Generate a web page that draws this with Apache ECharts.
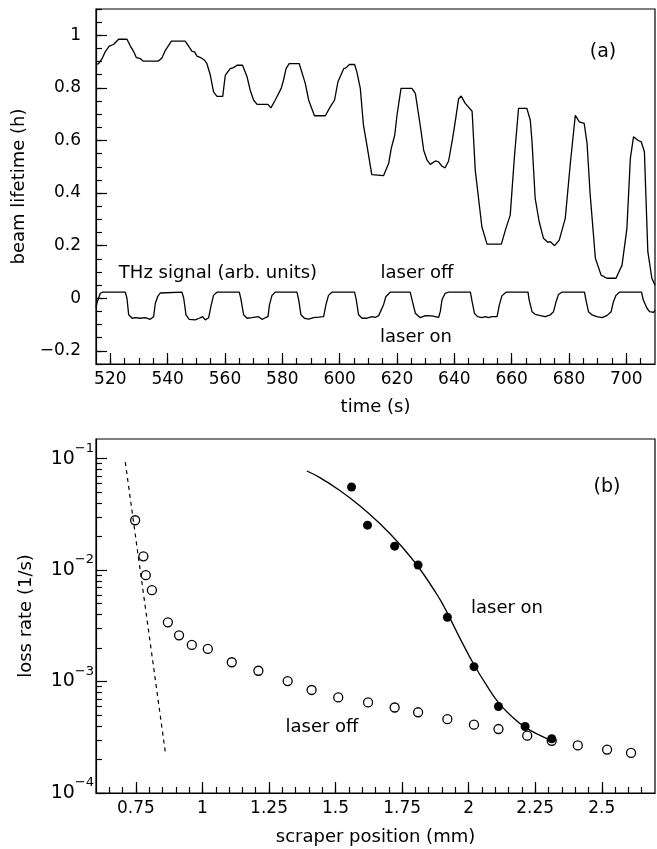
<!DOCTYPE html>
<html><head><meta charset="utf-8">
<script src="https://cdn.jsdelivr.net/npm/echarts@6/dist/echarts.min.js"></script>
<style>html,body{margin:0;padding:0;background:#fff}#c{width:657px;height:849px}</style>
</head><body><div id="c"></div>
<script>
// ---------- panel (a) ----------
const lifetimeT = [515,515.9,517.1,518.2,519.6,521.1,522.9,525.8,527.0,528.1,529.1,530.5,531.4,536.8,538.0,539.2,541.3,546.1,547.3,548.5,549.4,550.2,551.7,552.9,553.7,554.9,556.0,557.2,559.2,560.1,561.8,563.0,564.2,566.1,567.7,568.8,570.0,571.2,575.0,576.0,577.5,579.6,580.4,581.3,582.4,585.9,588.0,589.2,591.2,595.0,596.7,598.2,599.4,601.4,602.2,603.4,605.2,606.0,607.2,608.3,609.5,611.2,615.3,617.1,618.0,619.2,620.0,621.4,625.2,626.4,628.1,629.3,630.5,631.6,633.4,634.5,635.7,636.8,638.0,639.4,640.3,641.5,642.4,643.8,646.2,647.3,649.6,651.4,656.4,657.8,659.5,661.0,662.4,665.3,666.5,667.1,668.2,669.6,671.1,672.6,673.5,675.0,676.6,678.7,680.4,682.2,683.6,685.3,686.3,687.4,689.2,691.2,693.2,696.4,698.5,700.2,701.4,702.5,704.0,705.2,706.3,707.5,708.9,710.0];
const lifetimeV = [0.889,0.892,0.911,0.937,0.959,0.965,0.985,0.985,0.959,0.939,0.915,0.911,0.902,0.902,0.914,0.943,0.978,0.978,0.959,0.939,0.937,0.921,0.914,0.905,0.892,0.848,0.785,0.768,0.768,0.848,0.873,0.877,0.886,0.886,0.842,0.791,0.753,0.737,0.737,0.724,0.753,0.798,0.829,0.873,0.892,0.892,0.817,0.753,0.694,0.694,0.728,0.753,0.823,0.873,0.876,0.889,0.889,0.861,0.798,0.658,0.582,0.470,0.466,0.513,0.570,0.620,0.696,0.798,0.798,0.779,0.658,0.563,0.525,0.509,0.522,0.519,0.502,0.496,0.522,0.608,0.671,0.759,0.769,0.741,0.711,0.487,0.272,0.206,0.206,0.259,0.316,0.544,0.722,0.722,0.677,0.595,0.380,0.291,0.228,0.213,0.215,0.200,0.221,0.304,0.506,0.696,0.671,0.665,0.589,0.392,0.152,0.088,0.076,0.076,0.126,0.266,0.532,0.614,0.601,0.595,0.557,0.177,0.076,0.050];
const thzT = [515.0,515.3,516.5,517.4,525.2,525.8,526.4,527.6,528.7,530.5,532.2,533.9,535.1,535.7,536.5,537.4,545.0,545.6,546.4,547.5,549.6,551.0,552.2,553.1,554.3,555.2,556.0,557.2,565.0,565.6,566.5,567.7,569.4,571.7,572.9,574.1,575.0,575.5,576.4,577.5,585.1,585.7,586.5,587.7,589.2,590.9,592.7,594.4,595.2,596.1,597.3,605.2,605.8,606.6,607.8,609.5,611.3,612.4,613.6,615.3,616.1,617.6,624.6,625.4,626.4,628.1,629.9,632.2,634.5,635.1,635.7,636.8,638.0,645.6,646.2,647.0,648.1,649.6,650.8,651.9,653.1,654.9,655.7,656.6,658.0,665.7,666.1,667.1,668.2,670.0,671.7,673.5,674.6,675.5,676.3,677.5,685.4,685.9,686.8,688.0,689.7,691.5,693.2,694.7,695.5,696.4,697.6,705.3,705.9,707.2,708.1,709.5,710.0];
const thzV = [-0.035,-0.019,0.019,0.023,0.023,0.0,-0.063,-0.076,-0.074,-0.076,-0.074,-0.080,-0.070,-0.019,0.006,0.020,0.023,0.0,-0.063,-0.080,-0.082,-0.076,-0.070,-0.082,-0.074,-0.025,0.011,0.023,0.023,-0.006,-0.063,-0.076,-0.074,-0.070,-0.080,-0.074,-0.070,-0.025,0.011,0.023,0.023,-0.006,-0.063,-0.076,-0.079,-0.074,-0.072,-0.070,-0.025,0.011,0.023,0.023,-0.006,-0.063,-0.076,-0.076,-0.070,-0.073,-0.066,-0.025,0.006,0.023,0.023,-0.013,-0.057,-0.074,-0.066,-0.067,-0.073,-0.051,-0.006,0.019,0.023,0.023,-0.013,-0.057,-0.070,-0.074,-0.070,-0.074,-0.070,-0.070,-0.025,0.009,0.023,0.023,-0.006,-0.051,-0.061,-0.066,-0.070,-0.063,-0.051,-0.013,0.014,0.023,0.023,-0.006,-0.051,-0.063,-0.070,-0.074,-0.066,-0.051,-0.013,0.011,0.023,0.023,-0.006,-0.038,-0.051,-0.054,-0.045];
const timeTicks = [520,540,560,580,600,620,640,660,680,700];
const lifeTicks = [-0.2,0,0.2,0.4,0.6,0.8,1];

// ---------- panel (b) ----------
const offX = [0.747,0.778,0.787,0.81,0.87,0.912,0.96,1.02,1.11,1.21,1.32,1.41,1.51,1.622,1.722,1.81,1.92,2.02,2.112,2.22,2.312,2.41,2.52,2.61];
const offY = [0.028,0.0133,0.009,0.0066,0.0034,0.0026,0.00213,0.00196,0.00149,0.00125,0.00101,0.00084,0.00072,0.00065,0.000585,0.00053,0.00046,0.00041,0.000375,0.000327,0.000294,0.000267,0.000245,0.000229];
const onX = [1.56,1.62,1.722,1.81,1.92,2.02,2.112,2.212,2.312];
const onY = [0.0557,0.0253,0.0164,0.0111,0.00377,0.00136,0.000597,0.000395,0.000307];
const fitX = [1.392,1.441,1.516,1.591,1.666,1.741,1.816,1.891,1.921,1.966,2.019,2.067,2.112,2.166,2.214,2.268,2.313];
const fitY = [0.0774,0.0676,0.0518,0.0378,0.0262,0.01706,0.01028,0.00552,0.00407,0.00248,0.00143,0.000927,0.000647,0.000476,0.000386,0.000329,0.000294];
const dashX = [0.71,0.86];
const dashY = [0.093,0.000236];
const scraperTicks = [0.75,1,1.25,1.5,1.75,2,2.25,2.5];
const lossTicks = [1e-4,1e-3,1e-2,1e-1];

const FONT = 'DejaVu Sans';
const pair = (xs, ys) => xs.map((x, i) => [x, ys[i]]);
const range = (a, b, s) => { const r = []; for (let v = a; v <= b + 1e-9; v += s) r.push(+v.toFixed(4)); return r; };
const logMinor = [];
[1e-4, 1e-3, 1e-2].forEach(d => { for (let k = 2; k <= 9; k++) logMinor.push(+(k * d).toPrecision(3)); });

const black = '#000';
const lineAx = { show: true, onZero: false, lineStyle: { color: black, width: 1.2 } };
const minus = v => String(v).replace('-', '\u2212');

function majorX(grid, min, max, ticks, name, gap, fmt) {
  return {
    gridIndex: grid, type: 'value', position: 'bottom', min, max,
    axisLine: lineAx, splitLine: { show: false },
    axisTick: { show: true, inside: true, length: 11, customValues: ticks, lineStyle: { color: black, width: 1.2 } },
    axisLabel: { show: true, customValues: ticks, margin: 7, color: black, fontSize: 17, fontFamily: FONT, formatter: fmt },
    name, nameLocation: 'middle', nameGap: gap,
    nameTextStyle: { color: black, fontSize: 18, fontFamily: FONT }
  };
}
function minorAxis(grid, type, pos, min, max, ticks, extra) {
  return Object.assign({
    gridIndex: grid, type, position: pos, min, max,
    axisLine: { show: false, onZero: false }, splitLine: { show: false },
    axisTick: { show: true, inside: true, length: 6, customValues: ticks, lineStyle: { color: black, width: 1.2 } },
    axisLabel: { show: false }
  }, extra || {});
}

const chart = echarts.init(document.getElementById('c'), null, { renderer: 'canvas' });
chart.setOption({
  animation: false,
  backgroundColor: '#fff',
  textStyle: { fontFamily: FONT },
  grid: [
    { left: 96, top: 9, width: 559, height: 355, show: true, borderColor: black, borderWidth: 1.2, backgroundColor: 'transparent', containLabel: false, outerBoundsMode: 'none' },
    { left: 96, top: 439, width: 559, height: 354, show: true, borderColor: black, borderWidth: 1.2, backgroundColor: 'transparent', containLabel: false, outerBoundsMode: 'none' }
  ],
  xAxis: [
    majorX(0, 515, 710, timeTicks, 'time (s)', 34, v => String(v)),
    minorAxis(0, 'value', 'bottom', 515, 710, range(520, 705, 5)),
    majorX(1, 0.6, 2.7, scraperTicks, 'scraper position (mm)', 35, v => String(v)),
    minorAxis(1, 'value', 'bottom', 0.6, 2.7, range(0.65, 2.65, 0.05))
  ],
  yAxis: [
    {
      gridIndex: 0, type: 'value', position: 'left', min: -0.25, max: 1.1,
      axisLine: lineAx, splitLine: { show: false },
      axisTick: { show: true, inside: true, length: 11, customValues: lifeTicks, lineStyle: { color: black, width: 1.2 } },
      axisLabel: { show: true, customValues: lifeTicks, margin: 15, color: black, fontSize: 17, fontFamily: FONT, formatter: v => minus(+v.toFixed(2)) },
      name: 'beam lifetime (h)', nameLocation: 'middle', nameGap: 59, nameRotate: 90,
      nameTextStyle: { color: black, fontSize: 18, fontFamily: FONT }
    },
    minorAxis(0, 'value', 'left', -0.25, 1.1, range(-0.25, 1.1, 0.05)),
    {
      gridIndex: 1, type: 'log', logBase: 10, position: 'left', min: 1e-4, max: 0.15,
      axisLine: lineAx, splitLine: { show: false },
      axisTick: { show: true, inside: true, length: 11, customValues: lossTicks, lineStyle: { color: black, width: 1.2 } },
      axisLabel: {
        show: true, customValues: lossTicks, margin: 2, color: black, fontFamily: FONT,
        formatter: v => '{b|10}{s|\u2212' + Math.round(-Math.log10(v)) + '}',
        rich: {
          b: { fontSize: 19, lineHeight: 20, color: black, fontFamily: FONT },
          s: { fontSize: 13, lineHeight: 14, color: black, fontFamily: FONT, padding: [0, 0, 20, 0] }
        }
      },
      name: 'loss rate (1/s)', nameLocation: 'middle', nameGap: 61, nameRotate: 90,
      nameTextStyle: { color: black, fontSize: 18, fontFamily: FONT }
    },
    minorAxis(1, 'log', 'left', 1e-4, 0.15, logMinor, { logBase: 10 })
  ],
  series: [
    { type: 'line', name: 'lifetime', xAxisIndex: 0, yAxisIndex: 0, data: pair(lifetimeT, lifetimeV), symbol: 'none', lineStyle: { color: black, width: 1.3 }, silent: true, clip: true },
    { type: 'line', name: 'THz', xAxisIndex: 0, yAxisIndex: 0, data: pair(thzT, thzV), symbol: 'none', lineStyle: { color: black, width: 1.3 }, silent: true, clip: true },
    { type: 'line', name: 'edge', xAxisIndex: 2, yAxisIndex: 2, data: pair(dashX, dashY), symbol: 'none', lineStyle: { color: black, width: 1.2, type: [4, 4] }, silent: true },
    { type: 'line', name: 'fit', xAxisIndex: 2, yAxisIndex: 2, data: pair(fitX, fitY), symbol: 'none', smooth: 0.4, lineStyle: { color: black, width: 1.3 }, silent: true },
    { type: 'scatter', name: 'laser off', xAxisIndex: 2, yAxisIndex: 2, data: pair(offX, offY), symbol: 'circle', symbolSize: 9, itemStyle: { color: '#fff', borderColor: black, borderWidth: 1.3, opacity: 1 }, silent: true },
    { type: 'scatter', name: 'laser on', xAxisIndex: 2, yAxisIndex: 2, data: pair(onX, onY), symbol: 'circle', symbolSize: 9, itemStyle: { color: black, opacity: 1 }, silent: true }
  ],
  graphic: [
    { type: 'text', x: 603, y: 52, style: { text: '(a)', fontSize: 19, fontFamily: FONT, fill: black, align: 'center', verticalAlign: 'middle' } },
    { type: 'text', x: 218, y: 273, style: { text: 'THz signal (arb. units)', fontSize: 18, fontFamily: FONT, fill: black, align: 'center', verticalAlign: 'middle' } },
    { type: 'text', x: 417, y: 273, style: { text: 'laser off', fontSize: 18, fontFamily: FONT, fill: black, align: 'center', verticalAlign: 'middle' } },
    { type: 'text', x: 416, y: 337, style: { text: 'laser on', fontSize: 18, fontFamily: FONT, fill: black, align: 'center', verticalAlign: 'middle' } },
    { type: 'text', x: 607, y: 487, style: { text: '(b)', fontSize: 19, fontFamily: FONT, fill: black, align: 'center', verticalAlign: 'middle' } },
    { type: 'text', x: 507, y: 608, style: { text: 'laser on', fontSize: 18, fontFamily: FONT, fill: black, align: 'center', verticalAlign: 'middle' } },
    { type: 'text', x: 322, y: 727, style: { text: 'laser off', fontSize: 18, fontFamily: FONT, fill: black, align: 'center', verticalAlign: 'middle' } }
  ]
});
</script>
</body></html>
